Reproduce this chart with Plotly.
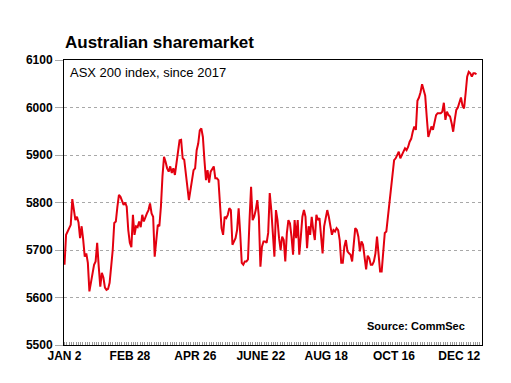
import pandas as pd
import plotly.graph_objects as go

# ASX 200 daily closes, 2017
asx200 = [
    5669, 5732, 5739, 5745, 5753, 5807, 5785, 5763, 5770, 5758, 5725, 5750, 5722, 5686, 5693, 5673,
    5613, 5630, 5652, 5669, 5676, 5715, 5665, 5623, 5652, 5642, 5621, 5616, 5618, 5631, 5665, 5700,
    5757, 5760, 5791, 5816, 5812, 5805, 5795, 5800, 5791, 5742, 5715, 5706,
    5774, 5732, 5750, 5748, 5760, 5748, 5774, 5760, 5770, 5777, 5784, 5798, 5777, 5770, 5686, 5715,
    5753, 5750, 5791, 5855, 5896, 5886, 5872, 5865, 5876, 5862, 5872, 5858, 5883, 5917, 5931, 5932,
    5893, 5890, 5862, 5826, 5805, 5826, 5851, 5868, 5872, 5910, 5924, 5952, 5956, 5938, 5889,
    5847, 5868, 5842, 5865, 5872, 5876, 5851, 5851, 5847, 5798, 5746, 5732, 5770, 5767, 5774, 5788,
    5784, 5711, 5718, 5725, 5742, 5788, 5735, 5673, 5669, 5676, 5676, 5680, 5763, 5833, 5763, 5770,
    5784, 5805, 5770, 5665, 5707, 5718, 5718, 5715, 5736, 5820, 5784, 5742, 5686, 5784,
    5763, 5725, 5700, 5728, 5721, 5676, 5735, 5763, 5756, 5728, 5690, 5763, 5725, 5763, 5690, 5728,
    5770, 5784, 5770, 5704, 5750, 5732, 5770, 5742, 5721, 5774, 5763, 5767, 5735, 5693, 5750, 5767,
    5784, 5770, 5753, 5732, 5742, 5739, 5746, 5742, 5721, 5673, 5673, 5707, 5721,
    5697, 5693, 5690, 5676, 5707, 5746, 5742, 5728, 5697, 5718, 5711, 5690, 5659, 5688, 5683, 5669,
    5669, 5676, 5693, 5728, 5690, 5655, 5655, 5700, 5736, 5739, 5770, 5805, 5840, 5868, 5889, 5893,
    5900, 5907, 5893, 5900, 5907, 5914, 5910, 5917,
    5928, 5934, 5949, 5960, 5953, 6014, 6021, 6032, 6049, 6035, 6025, 5980, 5938, 5949, 5960, 5953,
    5967, 5984, 5988, 5988, 5988, 5991, 6010, 5974, 5991, 5984, 5981, 5967, 5949, 5974, 5995, 6000,
    6010, 6021, 6004, 5998, 6030, 6065, 6075, 6072, 6065, 6072, 6072, 6070,
]
dates = pd.date_range("2017-01-02", "2017-12-27", periods=len(asx200))

tick_dates = ["2017-01-02", "2017-02-28", "2017-04-26", "2017-06-22", "2017-08-18", "2017-10-16", "2017-12-12"]
tick_labels = ["JAN 2", "FEB 28", "APR 26", "JUNE 22", "AUG 18", "OCT 16", "DEC 12"]
y_ticks = [5500, 5600, 5700, 5800, 5900, 6000, 6100]

FONT = "Arial, 'Liberation Sans', sans-serif"

fig = go.Figure()
fig.add_trace(go.Scatter(
    x=dates, y=asx200, mode="lines",
    line=dict(color="#E3000F", width=2),
    hoverinfo="x+y", showlegend=False,
))

fig.update_layout(
    width=511, height=383,
    margin=dict(l=64, r=29, t=60, b=38),
    paper_bgcolor="white", plot_bgcolor="white",
    font=dict(family=FONT, color="black"),
    title=dict(text="<b>Australian sharemarket</b>", x=65 / 511, xanchor="left",
               y=1 - 42 / 383, yanchor="middle", font=dict(size=17, family=FONT, color="black")),
    showlegend=False,
)
fig.update_xaxes(
    type="date",
    range=["2017-01-01 13:00", "2017-12-31 19:00"],
    tickvals=tick_dates, ticktext=tick_labels,
    tickfont=dict(size=12, family=FONT, color="black", weight="bold"),
    ticks="", showgrid=False,
    showline=True, linecolor="black", linewidth=1, mirror=True,
    minor=dict(ticks="inside", ticklen=3, tickcolor="#999999", dtick=2 * 86400000,
               tick0="2017-01-02", showgrid=False),
    zeroline=False, fixedrange=True,
)
fig.update_yaxes(
    range=[5500, 6100],
    tickvals=y_ticks,
    tickfont=dict(size=12, family=FONT, color="black", weight="bold"),
    ticks="outside", ticklen=8, tickcolor="#aaaaaa", tickwidth=1,
    showgrid=True, gridcolor="#a8a8a8", griddash="dot", gridwidth=1,
    showline=True, linecolor="black", linewidth=1, mirror=True,
    zeroline=False, fixedrange=True,
)

fig.add_annotation(text="ASX 200 index, since 2017", xref="paper", yref="paper",
                   x=0.01, y=1 - 12 / 285, xanchor="left", yanchor="middle",
                   showarrow=False, font=dict(size=13, family=FONT, color="black"))
fig.add_annotation(text="<b>Source: CommSec</b>", xref="paper", yref="paper",
                   x=1 - 15 / 418, y=19 / 285, xanchor="right", yanchor="middle",
                   showarrow=False, font=dict(size=11, family=FONT, color="black"))

fig.write_html("out.html", config={"displayModeBar": False},
               post_script="document.body.style.margin='0';")
